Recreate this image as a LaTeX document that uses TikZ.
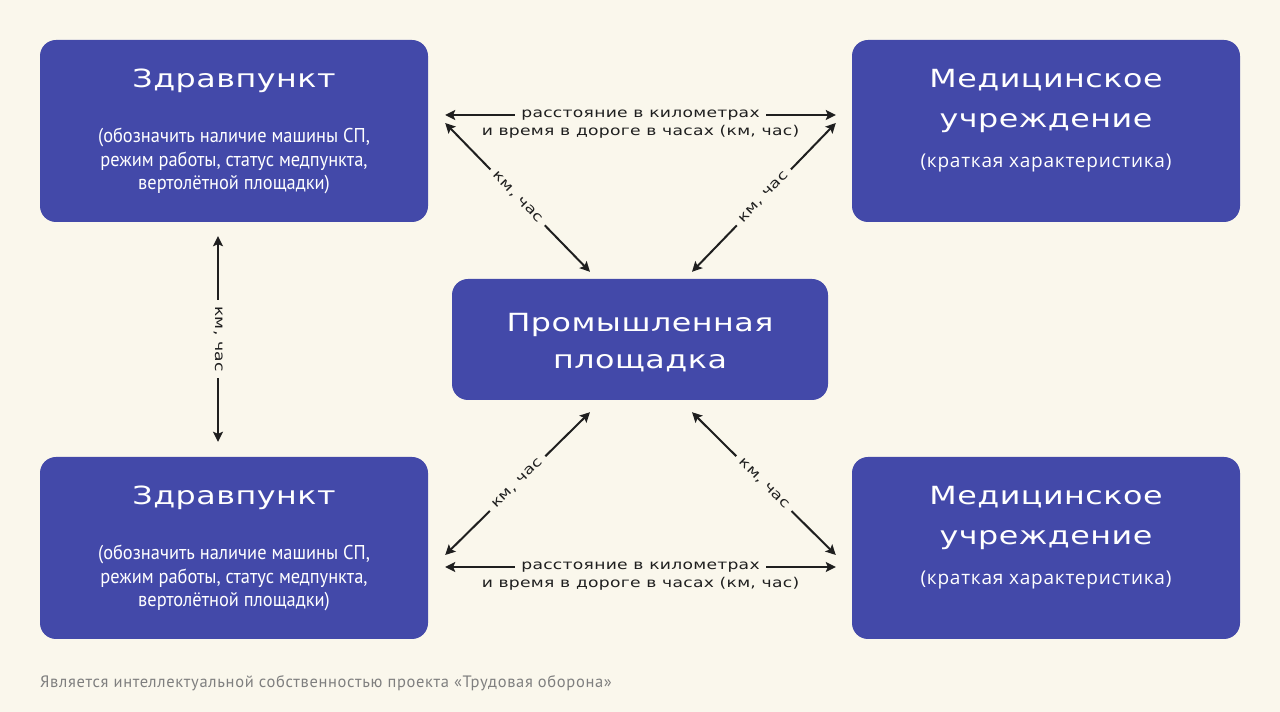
\documentclass[tikz,border=0pt]{standalone}
\usepackage{fontspec}
\setmainfont{DejaVu Sans}
\newfontfamily\widefont[FakeStretch=1.27,LetterSpace=2]{DejaVu Sans}
\newfontfamily\narrowfont[FakeStretch=0.92]{PT Sans}
\newfontfamily\plainfont[LetterSpace=4]{Open Sans}
\newfontfamily\notefont[LetterSpace=4]{PT Sans}
\usetikzlibrary{arrows.meta,positioning}
\definecolor{pageBg}{HTML}{FAF7EC}
\definecolor{boxBlue}{HTML}{4349A9}
\definecolor{arrowInk}{HTML}{1F1F1F}
\definecolor{noteGray}{HTML}{7F7F7F}

\begin{document}
\begin{tikzpicture}[x=1pt,y=1pt,
  block/.style={rectangle, fill=boxBlue, rounded corners=16pt, minimum width=388pt, minimum height=182pt, inner sep=0pt},
  headline/.style={text=white, font=\widefont\fontsize{25}{40}\selectfont, align=center, anchor=base, inner sep=0pt},
  subline/.style={text=white, font=\narrowfont\fontsize{20}{23.5}\selectfont, align=center, anchor=base, inner sep=0pt},
  briefline/.style={text=white, font=\plainfont\fontsize{19}{22}\selectfont, anchor=base, inner sep=0pt},
  link/.style={draw=arrowInk, line width=2pt, {Stealth[length=10pt,width=10pt,inset=2pt]}-{Stealth[length=10pt,width=10pt,inset=2pt]}},
  tag/.style={fill=pageBg, text=arrowInk, font=\widefont\fontsize{13.5}{18}\selectfont, inner xsep=6pt, inner ysep=2pt},
  note/.style={text=noteGray, font=\notefont\fontsize{16.5}{18}\selectfont, inner sep=0pt}]

  \path[use as bounding box, fill=pageBg] (0,0) rectangle (1280,712);

  % boxes
  \node[block] (zdravTop) at (234,581) {};
  \node[block] (medTop) at (1046,581) {};
  \node[block] (zdravBot) at (234,164) {};
  \node[block] (medBot) at (1046,164) {};
  \node[block, minimum width=376pt, minimum height=121pt] (prom) at (640,372.5) {};

  % box texts (base = last line)
  \node[headline] (zdravTopName) at ([yshift=-48pt]zdravTop.north) {Здравпункт};
  \node[subline] (zdravTopNote) at ([yshift=-150pt]zdravTop.north) {(обозначить наличие машины СП,\\режим работы, статус медпункта,\\вертолётной площадки)};
  \node[headline] (medTopName) at ([yshift=-88pt]medTop.north) {Медицинское\\учреждение};
  \node[briefline] (medTopNote) at ([yshift=-128pt]medTop.north) {(краткая характеристика)};
  \node[headline] (zdravBotName) at ([yshift=-48pt]zdravBot.north) {Здравпункт};
  \node[subline] (zdravBotNote) at ([yshift=-150pt]zdravBot.north) {(обозначить наличие машины СП,\\режим работы, статус медпункта,\\вертолётной площадки)};
  \node[headline] (medBotName) at ([yshift=-88pt]medBot.north) {Медицинское\\учреждение};
  \node[briefline] (medBotNote) at ([yshift=-128pt]medBot.north) {(краткая характеристика)};
  \node[headline, font=\widefont\fontsize{25}{37}\selectfont] (promName) at ([yshift=-90pt]prom.north) {Промышленная\\площадка};

  % connectors
  \draw[link] ([shift={(17,16)}]zdravTop.east) -- node[tag] (distTop) {расстояние в километрах} ([shift={(-16,16)}]medTop.west);
  \node[tag, anchor=base] (timeTop) at ([yshift=-18pt]distTop.base) {и время в дороге в часах (км, час)};
  \draw[link] ([shift={(17,8)}]zdravTop.east) -- node[tag, sloped] (kmTopLeft) {км, час} ([shift={(-50,7)}]prom.north);
  \draw[link] ([shift={(-16,8)}]medTop.west) -- node[tag, sloped] (kmTopRight) {км, час} ([shift={(52,7)}]prom.north);
  \draw[link] ([shift={(-50,-12)}]prom.south) -- node[tag, sloped] (kmBotLeft) {км, час} ([shift={(17,-7)}]zdravBot.east);
  \draw[link] ([shift={(52,-12)}]prom.south) -- node[tag, sloped] (kmBotRight) {км, час} ([shift={(-16,-7)}]medBot.west);
  \draw[link] ([shift={(17,-19)}]zdravBot.east) -- node[tag] (distBot) {расстояние в километрах} ([shift={(-16,-19)}]medBot.west);
  \node[tag, anchor=base] (timeBot) at ([yshift=-18pt]distBot.base) {и время в дороге в часах (км, час)};
  \draw[link] ([shift={(-16,-14)}]zdravTop.south) -- node[tag, rotate=-90] (kmLeft) {км, час} ([shift={(-16,15)}]zdravBot.north);

  % footer
  \node[note, anchor=base west] (credit) at (40,24) {Является интеллектуальной собственностью проекта «Трудовая оборона»};
\end{tikzpicture}
\end{document}
